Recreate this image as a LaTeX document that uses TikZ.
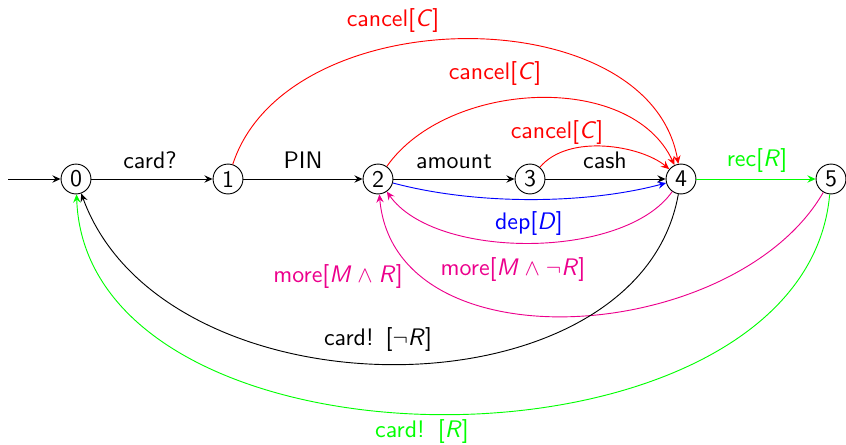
\documentclass[tikz,border=0pt]{standalone}
\usetikzlibrary{arrows.meta}
\definecolor{mag}{RGB}{236,0,140}
\newcommand\lv[1]{\textit{#1}}
\begin{document}
\begin{tikzpicture}[x=0.435pt,y=0.435pt,font=\sffamily\fontsize{10.4}{12.5}\selectfont,
  >={Stealth[length=3.6pt,width=3.2pt,inset=1.3pt]},
  state/.style={circle,draw,minimum size=13pt,inner sep=0pt},
  lbl/.style={anchor=base,inner sep=0pt},
  edge/.style={->}]
\useasboundingbox (0,0) rectangle (846,444);
% states
\node[state] (q0) at (76,265) {0};
\node[state] (q1) at (228,265) {1};
\node[state] (q2) at (378,265) {2};
\node[state] (q3) at (530,265) {3};
\node[state] (q4) at (681,265) {4};
\node[state] (q5) at (831,265) {5};
\coordinate (init) at (8,265);
% straight edges
\draw[edge] (init) -- (q0);
\draw[edge] (q0) -- (q1);
\draw[edge] (q1) -- (q2);
\draw[edge] (q2) -- (q3);
\draw[edge] (q3) -- (q4);
\draw[edge,green] (q4) -- (q5);
% cancel edges
\draw[edge,red] (q1) .. controls +(72:190) and +(100:185) .. (q4);
\draw[edge,red] (q2) .. controls +(55:120) and +(115:120) .. (q4);
\draw[edge,red] (q3) .. controls +(50:60) and +(140:52) .. (q4);
% lower edges
\draw[edge,blue] (q2) .. controls +(-15:100) and +(-165:100) .. (q4);
\draw[edge,mag] (q4) .. controls +(-125:99) and +(-55:99) .. (q2);
\draw[edge,mag] (q5) .. controls +(-120:191) and +(-85:191) .. (q2);
\draw[edge] (q4) .. controls +(-100:245) and +(-70:258) .. (q0);
\draw[edge,green] (q5) .. controls +(-95:309) and +(-88:309) .. (q0);
% labels
\node[lbl] (l01) at (150,276) {card?};
\node[lbl] (l12) at (303,276) {PIN};
\node[lbl] (l23) at (454,276) {amount};
\node[lbl] (l34) at (605,276) {cash};
\node[lbl,green] (l45) at (757,278) {rec[\lv{R}]};
\node[lbl,red] (lc1) at (393,418) {cancel[\lv{C}]};
\node[lbl,red] (lc2) at (495,365) {cancel[\lv{C}]};
\node[lbl,red] (lc3) at (557,306) {cancel[\lv{C}]};
\node[lbl,blue] (ldep) at (529,215) {dep[\lv{D}]};
\node[lbl,mag] (lm1) at (513,169) {more[\lv{M}\hspace{0.25em}$\wedge$\hspace{0.25em}$\neg$\lv{R}]};
\node[lbl,mag] (lm2) at (338,162) {more[\lv{M}\hspace{0.25em}$\wedge$\hspace{0.25em}\lv{R}]};
\node[lbl] (lk1) at (378,99) {card!\hspace{0.5em}[$\neg$\lv{R}]};
\node[lbl,green] (lk2) at (422,7) {card!\hspace{0.55em}[\lv{R}]};
\end{tikzpicture}
\end{document}
